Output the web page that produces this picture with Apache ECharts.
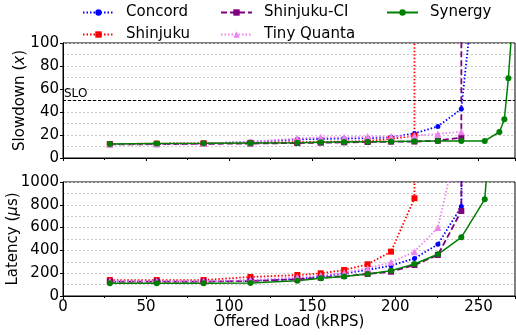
<!DOCTYPE html>
<html>
<head>
<meta charset="utf-8">
<script src="https://cdn.jsdelivr.net/npm/echarts@6/dist/echarts.min.js"></script>
<style>
  html, body { margin: 0; padding: 0; background: #fff; }
  #main { width: 516px; height: 335px; }
</style>
</head>
<body>
<div id="main"></div>
<script>
// offered load points (kRPS)
const loads = [28.2, 56.4, 84.6, 112.8, 141, 155.1, 169.2, 183.3, 197.4, 211.5, 225.6, 239.7, 253.8];
const synergySlowLoads = [28.2, 56.4, 84.6, 112.8, 141, 155.1, 169.2, 183.3, 197.4, 211.5, 225.6, 239.7, 253.8, 262.6, 265.6, 268, 271];
const synergyLatLoads = [28.2, 56.4, 84.6, 112.8, 141, 155.1, 169.2, 183.3, 197.4, 211.5, 225.6, 239.7, 253.8, 262.6];

// slowdown (x)
const concordSlow = [12.0, 12.3, 12.6, 14.0, 16.2, 16.6, 16.9, 17.2, 18.0, 21.4, 27.5, 42.6, 234];
const shinjukuSlow = [12.2, 12.5, 12.8, 13.2, 13.8, 14.0, 14.3, 14.8, 16.5, 19.4, 100000];
const shinjukuCISlow = [11.8, 12.0, 12.3, 12.6, 13.0, 13.3, 13.6, 13.9, 14.2, 14.3, 15.1, 17.7, 100000];
const tinyQuantaSlow = [12.0, 12.3, 12.6, 14.0, 17.1, 18.0, 18.0, 18.6, 18.6, 19.4, 20.9, 22.9];
const synergySlow = [12.2, 12.7, 12.8, 13.0, 13.3, 13.6, 13.9, 14.2, 14.3, 14.5, 14.7, 14.8, 14.8, 22.6, 33.6, 69.3, 130];

// latency (us)
const concordLat = [128, 128, 128, 135, 150, 170, 198, 228, 266, 330, 453, 784, 20000];
const shinjukuLat = [140, 140, 140, 167, 184, 199, 228, 278, 389, 857, 100000];
const shinjukuCILat = [126, 126, 126, 132, 146, 160, 175, 193, 213, 272, 360, 746, 100000];
const tinyQuantaLat = [130, 130, 130, 140, 165, 180, 205, 243, 295, 389, 600, 1500];
const synergyLat = [111, 111, 111, 114, 134, 155, 170, 193, 222, 281, 366, 515, 848, 2500];

const sloLevel = 50;

const pairs = (xs, ys) => ys.map((v, i) => [xs[i], v]);

const styles = {
    'Concord':      { color: '#0000ff', type: [1.5, 2], width: 1.8, symbol: 'circle', size: 5 },
    'Shinjuku':     { color: '#ff0000', type: [1.5, 2], width: 1.8, symbol: 'rect', size: 6 },
    'Shinjuku-CI':  { color: '#800080', type: [6, 3], width: 1.8, symbol: 'rect', size: 6 },
    'Tiny Quanta':  { color: '#ee82ee', type: [1.5, 2], width: 1.8, symbol: 'triangle', size: 7 },
    'Synergy':      { color: '#008000', type: 'solid', width: 1.5, symbol: 'circle', size: 6 },
};

function mkSeries(name, data, idx) {
    const s = styles[name];
    return {
        name: name,
        type: 'line',
        xAxisIndex: idx,
        yAxisIndex: idx,
        data: data,
        symbol: s.symbol,
        symbolSize: s.size,
        showSymbol: true,
        clip: true,
        itemStyle: { color: s.color },
        lineStyle: { color: s.color, type: s.type, width: s.width },
    };
}

const FONT = 'DejaVu Sans';
const gridLine = { show: true, lineStyle: { color: '#c8c8c8', type: [2, 2], width: 1 } };

function xAxisDef(idx, showLabel) {
    return {
        type: 'value',
        gridIndex: idx,
        min: 0,
        max: 272,
        interval: 50,
        axisLine: { show: true, onZero: false, lineStyle: { color: '#000', width: 1 } },
        axisTick: { show: true, length: 3, lineStyle: { color: '#000' } },
        minorTick: { show: true, splitNumber: 2, length: 2, lineStyle: { color: '#000' } },
        splitLine: { show: false },
        axisLabel: { show: showLabel, color: '#000', fontSize: 15, fontFamily: FONT, margin: 4,
                     showMaxLabel: false, formatter: v => String(v) },
        name: showLabel ? 'Offered Load (kRPS)' : '',
        nameLocation: 'middle',
        nameGap: 19,
        nameMoveOverlap: false,
        nameTextStyle: { color: '#000', fontSize: 15, fontFamily: FONT },
    };
}

function yAxisDef(idx, max, interval, name, gap) {
    return {
        type: 'value',
        gridIndex: idx,
        min: 0,
        max: max,
        interval: interval,
        axisLine: { show: true, lineStyle: { color: '#000', width: 1 } },
        axisTick: { show: true, length: 3, lineStyle: { color: '#000' } },
        minorTick: { show: false, splitNumber: 2 },
        splitLine: gridLine,
        minorSplitLine: gridLine,
        axisLabel: { color: '#000', fontSize: 15, fontFamily: FONT, margin: 4, formatter: v => String(v) },
        name: name,
        nameLocation: 'middle',
        nameGap: gap,
        nameMoveOverlap: false,
        nameTextStyle: { color: '#000', fontSize: 15, fontFamily: FONT,
                         rich: { i: { fontStyle: 'italic', fontSize: 15, fontFamily: FONT, color: '#000' } } },
    };
}

function legendCol(left, names) {
    return {
        orient: 'vertical',
        left: left,
        top: 5,
        itemWidth: 31,
        itemHeight: 8,
        itemGap: 7,
        padding: 0,
        data: names,
        formatter: n => '{g|}' + n,
        textStyle: { color: '#000', fontSize: 15, fontFamily: FONT, rich: { g: { width: 7 } } },
    };
}

const topSeries = [
    mkSeries('Concord', pairs(loads, concordSlow), 0),
    mkSeries('Shinjuku', pairs(loads, shinjukuSlow), 0),
    mkSeries('Shinjuku-CI', pairs(loads, shinjukuCISlow), 0),
    mkSeries('Tiny Quanta', pairs(loads, tinyQuantaSlow), 0),
    mkSeries('Synergy', pairs(synergySlowLoads, synergySlow), 0),
];
topSeries[0].markLine = {
    silent: true,
    symbol: 'none',
    lineStyle: { color: '#000', type: [3, 2], width: 1 },
    label: { show: true, formatter: 'SLO', position: 'insideStartTop', color: '#000',
             fontSize: 12, fontFamily: FONT, distance: [1, 1] },
    data: [{ yAxis: sloLevel }],
};

const bottomSeries = [
    mkSeries('Concord', pairs(loads, concordLat), 1),
    mkSeries('Shinjuku', pairs(loads, shinjukuLat), 1),
    mkSeries('Shinjuku-CI', pairs(loads, shinjukuCILat), 1),
    mkSeries('Tiny Quanta', pairs(loads, tinyQuantaLat), 1),
    mkSeries('Synergy', pairs(synergyLatLoads, synergyLat), 1),
];

const option = {
    animation: false,
    backgroundColor: '#fff',
    legend: [
        legendCol(82, ['Concord', 'Shinjuku']),
        legendCol(220, ['Shinjuku-CI', 'Tiny Quanta']),
        legendCol(386, ['Synergy']),
    ],
    grid: [
        { left: 63, right: 1, top: 43, height: 115, show: true, borderColor: '#000', borderWidth: 1,
          outerBoundsMode: 'none', containLabel: false },
        { left: 63, right: 1, top: 182, height: 114, show: true, borderColor: '#000', borderWidth: 1,
          outerBoundsMode: 'none', containLabel: false },
    ],
    xAxis: [xAxisDef(0, false), xAxisDef(1, true)],
    yAxis: [
        yAxisDef(0, 100, 20, 'Slowdown ({i|x})', 35),
        yAxisDef(1, 1000, 200, 'Latency ({i|μ}s)', 42),
    ],
    series: topSeries.concat(bottomSeries),
};

const chart = echarts.init(document.getElementById('main'), null, { renderer: 'canvas' });
chart.setOption(option);
</script>
</body>
</html>
